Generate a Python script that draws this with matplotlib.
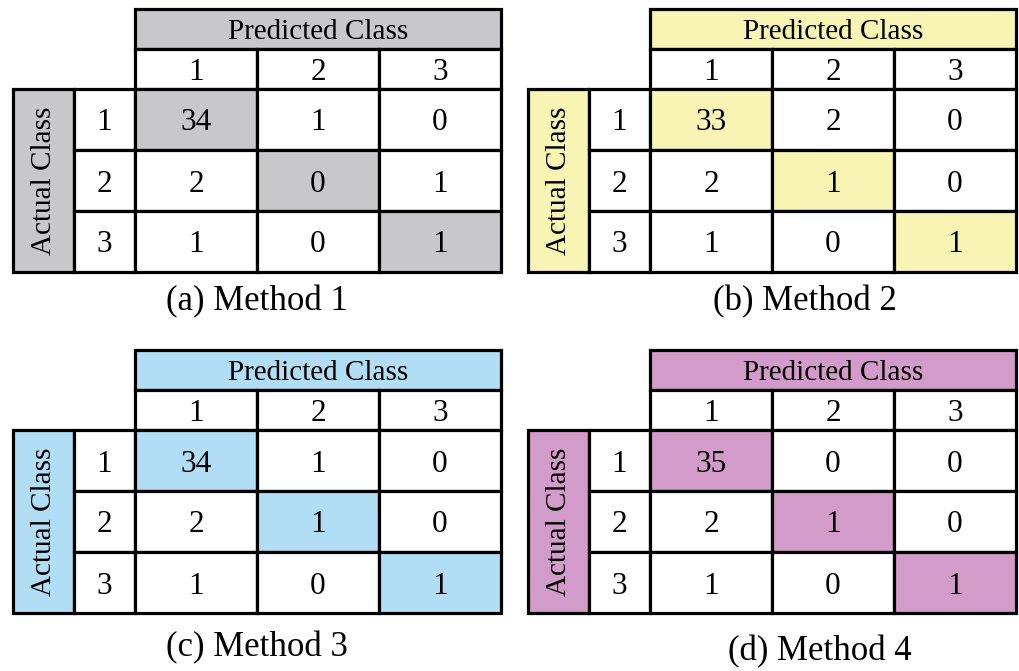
import matplotlib
matplotlib.use("Agg")
import matplotlib.pyplot as plt
from matplotlib.patches import Rectangle

plt.rcParams['font.family'] = ['Liberation Serif', 'DejaVu Serif']

# confusion matrices (rows = actual, cols = predicted)
classes = ["1", "2", "3"]
method_1 = [[34, 1, 0], [2, 0, 1], [1, 0, 1]]
method_2 = [[33, 2, 0], [2, 1, 0], [1, 0, 1]]
method_3 = [[34, 1, 0], [2, 1, 0], [1, 0, 1]]
method_4 = [[35, 0, 0], [2, 1, 0], [1, 0, 1]]
matrices = [method_1, method_2, method_3, method_4]
captions = ["(a) Method 1", "(b) Method 2", "(c) Method 3", "(d) Method 4"]
fills = ["#c8c8ca", "#f8f4b4", "#b2def5", "#d39bc9"]

# table layout in pixels: left edge, top edge, caption centre
origins = [(13, 9), (528, 9), (13, 350), (528, 350)]
caption_pos = [(257, 302), (805, 302), (257, 648), (820, 652)]
lab_w, data_w = 61, 122
head_h, row_h = 40, 61
lw = 2.3
fs = 21
fs_num = 22.5


def box(x, y, w, h, color="white"):
    ax.add_patch(Rectangle((x, y), w, h, facecolor=color, edgecolor="black",
                           linewidth=lw, joinstyle="miter"))


def label(x, y, s, size=fs, **kw):
    ax.text(x, y, s, ha="center", va="center_baseline", fontsize=size, **kw)


fig = plt.figure(figsize=(10.19, 6.71), dpi=100)
ax = fig.add_axes([0, 0, 1, 1])
ax.set_xlim(0, 1019)
ax.set_ylim(671, 0)
ax.axis("off")

for m, cap, col, (x0, y0), (cx, cy) in zip(matrices, captions, fills, origins, caption_pos):
    xd = x0 + 2 * lab_w          # left of data columns
    yd = y0 + 2 * head_h         # top of data rows
    n = len(classes)

    # predicted class header
    box(xd, y0, n * data_w, head_h, col)
    label(xd + n * data_w / 2, y0 + head_h / 2, "Predicted Class")
    for j, c in enumerate(classes):
        box(xd + j * data_w, y0 + head_h, data_w, head_h)
        label(xd + (j + 0.5) * data_w, y0 + 1.5 * head_h, c, fs_num)

    # actual class header
    box(x0, yd, lab_w, n * row_h, col)
    ax.text(x0 + lab_w / 2 + 1, yd + n * row_h / 2, "Actual Class", rotation=90,
            ha="center", va="center", fontsize=fs)
    for i, c in enumerate(classes):
        box(x0 + lab_w, yd + i * row_h, lab_w, row_h)
        label(x0 + 1.5 * lab_w, yd + (i + 0.5) * row_h, c, fs_num)

    # cells, diagonal highlighted
    for i in range(n):
        for j in range(n):
            box(xd + j * data_w, yd + i * row_h, data_w, row_h,
                col if i == j else "white")
            label(xd + (j + 0.5) * data_w, yd + (i + 0.5) * row_h, str(m[i][j]), fs_num)

    ax.text(cx, cy, cap, ha="center", va="center", fontsize=25)

fig.savefig("out.png", dpi=100)
